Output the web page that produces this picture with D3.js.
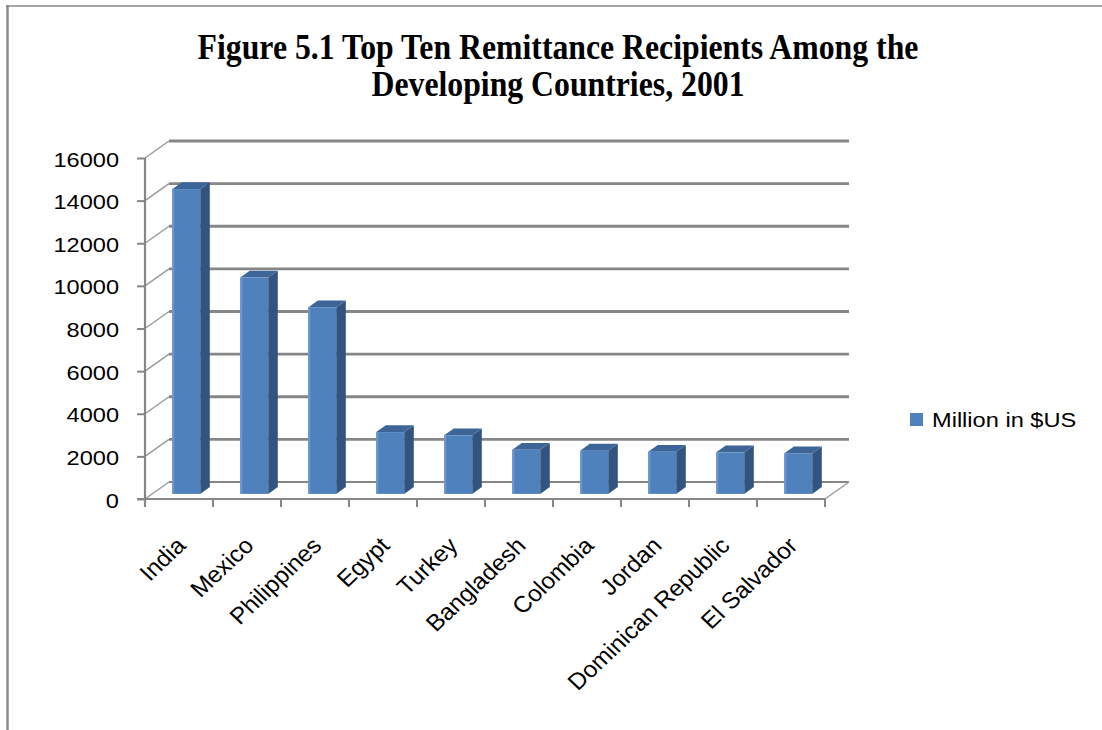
<!DOCTYPE html>
<html>
<head>
<meta charset="utf-8">
<script src="https://cdn.jsdelivr.net/npm/d3@7"></script>
<style>
  html, body { margin: 0; padding: 0; background: #fff; }
  svg { display: block; }
</style>
</head>
<body>
<svg id="chart" width="1102" height="730"></svg>
<script>
// Remittance receipts, million US$, 2001
const categories = ["India", "Mexico", "Philippines", "Egypt", "Turkey", "Bangladesh",
                    "Colombia", "Jordan", "Dominican Republic", "El Salvador"];
const values = [14300, 10150, 8750, 2900, 2750, 2070, 2030, 1980, 1950, 1900];
const yTicks = [0, 2000, 4000, 6000, 8000, 10000, 12000, 14000, 16000];
const seriesName = "Million in $US";
const titleLines = ["Figure 5.1 Top Ten Remittance Recipients Among the",
                    "Developing Countries, 2001"];

const svg = d3.select("#chart");
const SX = 1.18;                 // horizontal stretch of the sans text
const LSX = 1.06;                // stretch of the slanted category labels
const sans = "'Liberation Sans', Arial, sans-serif";
const gridColor = "#868686";

// 3-D frame: the back wall is shifted by DX, DY from the front plane
const DX = 24, DY = -17;
const x = d3.scaleBand().domain(categories).range([145, 825]).padding(0);
const y = d3.scaleLinear().domain([0, 16000]).range([499, 158]);

// outer frame lines
svg.append("line").attr("x1", 7.5).attr("x2", 7.5).attr("y1", 5).attr("y2", 730)
  .attr("stroke", "#8a8a8a").attr("stroke-width", 2.5);
svg.append("line").attr("x1", 6).attr("x2", 1102).attr("y1", 6).attr("y2", 6)
  .attr("stroke", "#8a8a8a").attr("stroke-width", 1.5);

// title, set in a condensed bold serif
const title = svg.append("g");
const titleRows = titleLines.map((t, i) => {
  const g = title.append("g");
  g.append("text")
    .attr("text-anchor", "middle")
    .attr("font-family", "'Liberation Serif', 'Times New Roman', serif")
    .attr("font-weight", "bold")
    .attr("font-size", 35)
    .attr("fill", "#000")
    .text(t);
  return { g, baseline: i === 0 ? 59 : 96 };
});
const titleSX = 721 / titleRows[0].g.select("text").node().getComputedTextLength();
titleRows.forEach(r => r.g.attr("transform", `translate(558, ${r.baseline}) scale(${titleSX},1)`));

// back wall gridlines and left wall diagonals
const grid = svg.append("g");
yTicks.forEach(v => {
  grid.append("line")
    .attr("x1", x.range()[0] + DX).attr("x2", x.range()[1] + DX)
    .attr("y1", y(v) + DY).attr("y2", y(v) + DY)
    .attr("stroke", gridColor).attr("stroke-width", v === 0 ? 2 : 2.8);
  grid.append("line")
    .attr("x1", x.range()[0]).attr("x2", x.range()[0] + DX)
    .attr("y1", y(v)).attr("y2", y(v) + DY)
    .attr("stroke", "#9a9a9a").attr("stroke-width", 1.5);
});
// floor right edge
grid.append("line")
  .attr("x1", x.range()[1]).attr("x2", x.range()[1] + DX)
  .attr("y1", y(0)).attr("y2", y(0) + DY)
  .attr("stroke", "#9a9a9a").attr("stroke-width", 1.5);

// bars as boxes sitting in the middle of the depth
const z0 = 0.3, z1 = 0.7;
const barW = x.bandwidth() * 28 / 68;
const bars = svg.append("g");
categories.forEach((c, i) => {
  const v = values[i];
  const bx = x(c) + (x.bandwidth() - barW) / 2 + DX * z0;
  const by0 = y(0) + DY * z0;
  const by1 = y(v) + DY * z0;
  const ddx = DX * (z1 - z0), ddy = DY * (z1 - z0);
  const g = bars.append("g");
  // side face
  g.append("path")
    .attr("d", `M${bx + barW},${by1} L${bx + barW + ddx},${by1 + ddy} L${bx + barW + ddx},${by0 + ddy} L${bx + barW},${by0} Z`)
    .attr("fill", "#32547e");
  // top face
  g.append("path")
    .attr("d", `M${bx},${by1} L${bx + ddx},${by1 + ddy} L${bx + barW + ddx},${by1 + ddy} L${bx + barW},${by1} Z`)
    .attr("fill", "#3d6597");
  // front face
  g.append("rect")
    .attr("x", bx).attr("y", by1).attr("width", barW).attr("height", by0 - by1)
    .attr("fill", "#4f81bd");
  g.append("rect")
    .attr("x", bx).attr("y", by1).attr("width", 2).attr("height", by0 - by1)
    .attr("fill", "#6d99cf");
});

// value axis (front)
const yAxis = svg.append("g")
  .attr("transform", `translate(${x.range()[0]},0)`)
  .call(d3.axisLeft(y).tickValues(yTicks).tickFormat(d3.format("d"))
    .tickSize(8).tickPadding(0).tickSizeOuter(0));
yAxis.select(".domain").remove();
yAxis.selectAll(".tick line").attr("stroke", gridColor).attr("stroke-width", 2);
yAxis.selectAll(".tick text")
  .attr("x", -26 / SX)
  .attr("dy", "0.4em")
  .attr("transform", `scale(${SX},1)`)
  .attr("font-family", sans)
  .attr("font-size", 20)
  .attr("fill", "#000");
svg.append("line")
  .attr("x1", x.range()[0]).attr("x2", x.range()[0])
  .attr("y1", y(16000)).attr("y2", y(0) + 8)
  .attr("stroke", gridColor).attr("stroke-width", 2.2);

// category axis (front)
const xAxis = svg.append("g");
xAxis.append("line")
  .attr("x1", x.range()[0] - 8).attr("x2", x.range()[1])
  .attr("y1", y(0)).attr("y2", y(0))
  .attr("stroke", gridColor).attr("stroke-width", 2.2);
const bounds = categories.map(c => x(c)).concat([x.range()[1]]);
xAxis.selectAll("line.tk").data(bounds).join("line")
  .attr("class", "tk")
  .attr("x1", d => d).attr("x2", d => d)
  .attr("y1", y(0)).attr("y2", y(0) + 8)
  .attr("stroke", gridColor).attr("stroke-width", 2);
xAxis.selectAll("text").data(categories).join("text")
  .attr("transform", d => `translate(${x(d) + x.bandwidth() / 2 + 8},547) scale(${LSX},1) rotate(-45)`)
  .attr("text-anchor", "end")
  .attr("font-family", sans)
  .attr("font-size", 23)
  .attr("fill", "#000")
  .text(d => d);

// legend
const legend = svg.append("g").attr("transform", "translate(910,413)");
legend.append("rect").attr("width", 13).attr("height", 13).attr("fill", "#4f81bd");
legend.append("text")
  .attr("transform", `translate(22,13.5) scale(${SX},1)`)
  .attr("font-family", sans)
  .attr("font-size", 20)
  .attr("fill", "#000")
  .text(seriesName);
</script>
</body>
</html>
